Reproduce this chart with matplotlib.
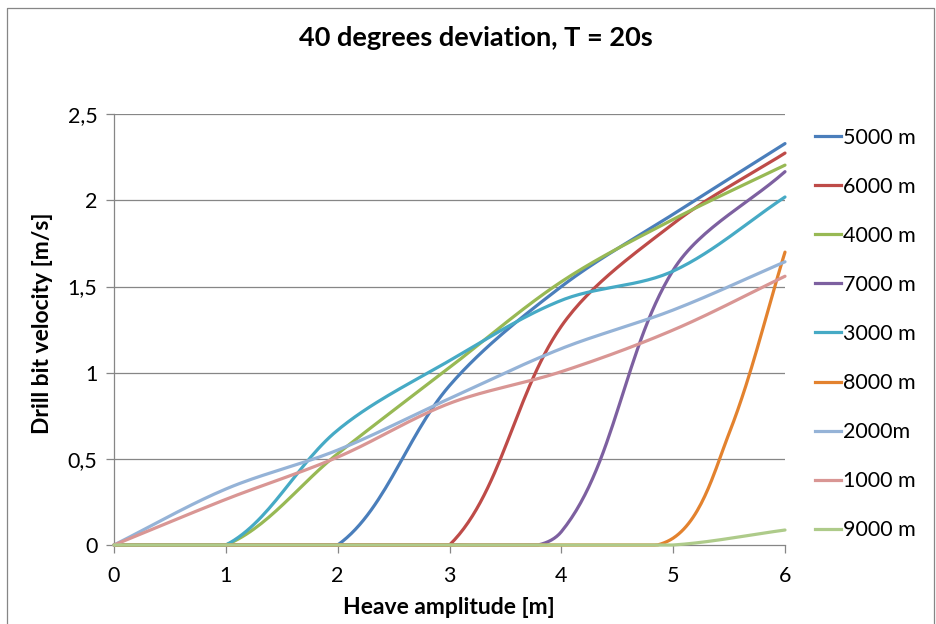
import numpy as np
import matplotlib
matplotlib.use("Agg")
import matplotlib.pyplot as plt
from matplotlib.lines import Line2D

# heave amplitude [m]
heave = [0, 1, 2, 3, 4, 5, 6]
heave_8000 = [0, 1, 2, 3, 4, 5, 5.5, 6]

v5000 = [0, 0, 0, 0.925, 1.50, 1.92, 2.33]
v6000 = [0, 0, 0, 0, 1.27, 1.865, 2.275]
v4000 = [0, 0, 0.53, 1.03, 1.528, 1.89, 2.205]
v7000 = [0, 0, 0, 0, 0.077, 1.595, 2.167]
v3000 = [0, 0, 0.667, 1.07, 1.42, 1.59, 2.02]
v8000 = [0, 0, 0, 0, 0, 0.04, 0.648, 1.70]
v2000 = [0, 0.325, 0.551, 0.85, 1.14, 1.364, 1.644]
v1000 = [0, 0.265, 0.51, 0.822, 1.006, 1.248, 1.56]
v9000 = [0, 0, 0, 0, 0, 0, 0.087]

labels = ["5000 m", "6000 m", "4000 m", "7000 m", "3000 m",
          "8000 m", "2000m", "1000 m", "9000 m"]
xs_all = [heave, heave, heave, heave, heave, heave_8000, heave, heave, heave]
series = [v5000, v6000, v4000, v7000, v3000, v8000, v2000, v1000, v9000]
colors = ["#4A7EBB", "#BE4B48", "#98B954", "#7D60A0", "#46AAC5",
          "#E3822E", "#95B3D7", "#D99694", "#AECB8A"]

yticks = [0, 0.5, 1, 1.5, 2, 2.5]
ytick_labels = ["0", "0,5", "1", "1,5", "2", "2,5"]
xticks = [0, 1, 2, 3, 4, 5, 6]


def smooth(ax, x, y, n=30):
    # excel style smoothed line: bezier segments, control points
    # weighted by the segment lengths on screen
    pts = ax.transData.transform(np.column_stack([x, y]))
    m = len(pts)
    d = np.hypot(*np.diff(pts, axis=0).T)
    t = np.linspace(0, 1, n, endpoint=False)[:, None]
    out = []
    for i in range(m - 1):
        p1, p2 = pts[i], pts[i + 1]
        p0 = pts[i - 1] if i > 0 else p1
        p3 = pts[i + 2] if i + 2 < m else p2
        d0 = d[i - 1] if i > 0 else 0.0
        d1 = d[i]
        d2 = d[i + 1] if i + 2 < m else 0.0
        c1 = p1 + (p2 - p0) * d1 / (3 * (d0 + d1))
        c2 = p2 - (p3 - p1) * d1 / (3 * (d1 + d2))
        b = (1 - t) ** 3 * p1 + 3 * (1 - t) ** 2 * t * c1 + 3 * (1 - t) * t ** 2 * c2 + t ** 3 * p2
        out.append(b)
    out.append(pts[-1:])
    return ax.transData.inverted().transform(np.vstack(out)).T


plt.rcParams['font.family'] = ['Lato', 'DejaVu Sans']

fig = plt.figure(figsize=(9.36, 6.24), dpi=100)
ax = fig.add_axes([114 / 936, 1 - 545 / 624, (785 - 114) / 936, (545 - 114.3) / 624])
ax.set_xlim(0, 6)
ax.set_ylim(0, 2.5)

grid_c = "#868686"
for v in yticks[1:]:
    ax.axhline(v, color=grid_c, lw=0.9, zorder=1)

handles = []
for xv, vals, lab, c in zip(xs_all, series, labels, colors):
    sx, sy = smooth(ax, xv, vals)
    sy = np.clip(sy, 0, None)
    ax.plot(sx, sy, color=c, lw=2.3, solid_capstyle='round', clip_on=False, zorder=3)
    handles.append(Line2D([], [], color=c, lw=2.3, label=lab))

ax.set_xticks(xticks)
ax.set_yticks(yticks)
ax.set_yticklabels(ytick_labels)
for s in ["top", "right"]:
    ax.spines[s].set_visible(False)
for s in ["left", "bottom"]:
    ax.spines[s].set_color(grid_c)
    ax.spines[s].set_linewidth(0.9)
ax.tick_params(axis='both', direction='out', length=6, width=0.9, color=grid_c,
               labelsize=15.5, labelcolor='black')
ax.tick_params(axis='x', pad=9)
ax.tick_params(axis='y', pad=6)

fig.text(0.508, 1 - 38 / 624, "40 degrees deviation, T = 20s", ha='center', va='center',
         fontsize=19.5, fontweight='bold')
fig.text(449 / 936, 1 - 607 / 624, "Heave amplitude [m]", ha='center', va='center',
         fontsize=16.5, fontweight='bold')
fig.text(43 / 936, 1 - 323 / 624, "Drill bit velocity [m/s]", ha='center', va='center',
         rotation=90, fontsize=16.5, fontweight='bold')

fig.legend(handles=handles, loc='upper left', bbox_to_anchor=(804 / 936, 1 - 117 / 624),
           frameon=False, fontsize=15.5, handlelength=1.2, handletextpad=0.1,
           labelspacing=1.35, borderpad=0)

# chart border
fig.add_artist(Line2D([7 / 936, 7 / 936, 934 / 936, 934 / 936],
                      [0, 1 - 8 / 624, 1 - 8 / 624, 0], color=grid_c, lw=0.9))

fig.savefig("out.png", dpi=100)
